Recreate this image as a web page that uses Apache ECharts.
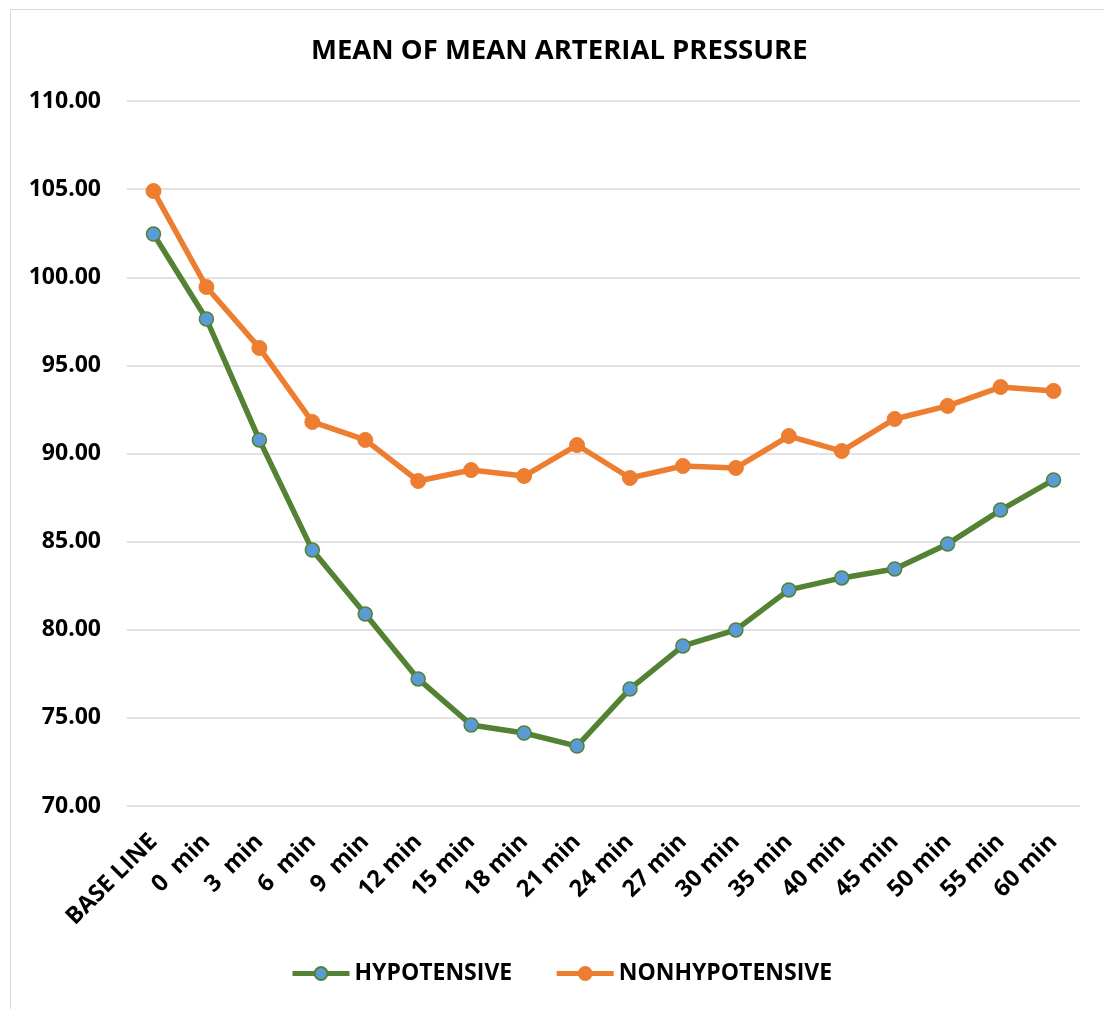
<!DOCTYPE html>
<html><head><meta charset="utf-8">
<script src="https://cdn.jsdelivr.net/npm/echarts@6/dist/echarts.min.js"></script>
<style>
html,body{margin:0;padding:0;background:#fff;}
#frame{position:absolute;left:10px;top:9px;width:1100px;height:1010px;border:1.5px solid #d9d9d9;box-sizing:border-box;}
#c{position:absolute;left:0;top:0;width:1104px;height:1009px;}
</style></head>
<body>
<div id="frame"></div>
<div id="c"></div>
<script>
const categories = ["BASE LINE","0  min","3  min","6  min","9  min","12 min","15 min","18 min","21 min","24 min","27 min","30 min","35 min","40 min","45 min","50 min","55 min","60 min"];
const hypotensive = [102.45,97.63,90.77,84.52,80.89,77.21,74.6,74.14,73.4,76.64,79.08,79.99,82.26,82.94,83.45,84.87,86.79,88.5];
const nonhypotensive = [104.89,99.45,95.99,91.79,90.77,88.44,89.06,88.72,90.48,88.61,89.29,89.18,90.99,90.14,91.96,92.7,93.77,93.55];
const yTicks = {min:70, max:110, interval:5};

const font = "'Open Sans', sans-serif";
const chart = echarts.init(document.getElementById('c'), null, {renderer:'canvas'});
chart.setOption({
  backgroundColor:'transparent',
  animation:false,
  title:{text:'MEAN OF MEAN ARTERIAL PRESSURE',left:306,top:32,
    textStyle:{fontFamily:font,fontWeight:'bold',fontSize:27.5,color:'#000'}},
  grid:{left:127,right:24,top:101,bottom:203,containLabel:false},
  legend:{bottom:19,left:285,itemWidth:57,itemHeight:16,itemGap:42,
    lineStyle:{width:5},
    textStyle:{fontFamily:font,fontWeight:'bold',fontSize:23,color:'#000'},
    data:['HYPOTENSIVE','NONHYPOTENSIVE']},
  xAxis:{type:'category',data:categories,boundaryGap:true,
    axisLine:{show:false},axisTick:{show:false},
    axisLabel:{rotate:45,interval:0,margin:32,fontFamily:font,fontWeight:'bold',fontSize:23.5,color:'#000'}},
  yAxis:{type:'value',min:yTicks.min,max:yTicks.max,interval:yTicks.interval,
    axisLine:{show:false},axisTick:{show:false},
    splitLine:{lineStyle:{color:'#d9d9d9',width:1.5}},
    axisLabel:{margin:26,fontFamily:font,fontWeight:'bold',fontSize:23,color:'#000',
      formatter:v=>v.toFixed(2)}},
  series:[
    {name:'HYPOTENSIVE',type:'line',data:hypotensive,symbol:'circle',symbolSize:14,
      lineStyle:{color:'#548235',width:5.5},
      itemStyle:{color:'#5B9BD5',borderColor:'#548235',borderWidth:1.5}},
    {name:'NONHYPOTENSIVE',type:'line',data:nonhypotensive,symbol:'circle',symbolSize:15,
      lineStyle:{color:'#ED7D31',width:5.5},
      itemStyle:{color:'#ED7D31',borderColor:'#ED7D31',borderWidth:1}}
  ]
});
</script>
</body></html>
